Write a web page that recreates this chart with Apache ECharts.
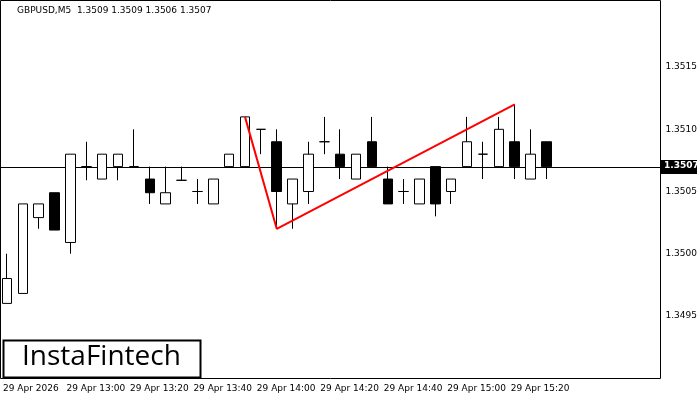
<!DOCTYPE html>
<html><head><meta charset="utf-8">
<script src="https://cdn.jsdelivr.net/npm/echarts@6/dist/echarts.min.js"></script>
<style>html,body{margin:0;padding:0;background:#fff}#c{width:700px;height:400px}</style>
</head><body><div id="c"></div>
<script>
// [open, close, low, high]
const opens  = [1.3496,1.34968,1.35029,1.35049,1.35009,1.3507,1.3506,1.3507,1.3507,1.3506,1.3504,1.35059,1.3505,1.3504,1.3507,1.3507,1.3510,1.3509,1.3504,1.3505,1.3509,1.3508,1.3506,1.3509,1.3506,1.3505,1.3504,1.3507,1.3505,1.3507,1.3508,1.3507,1.3509,1.3506,1.3509];
const closes = [1.3498,1.3504,1.3504,1.35019,1.3508,1.3507,1.3508,1.3508,1.3507,1.35049,1.35049,1.35059,1.3505,1.3506,1.3508,1.3511,1.3510,1.3505,1.3506,1.3508,1.3509,1.3507,1.3508,1.3507,1.3504,1.3505,1.3506,1.3504,1.3506,1.3509,1.3508,1.3510,1.3507,1.3508,1.3507];
const lows   = [1.3496,1.34968,1.3502,1.35019,1.3500,1.35059,1.3506,1.35059,1.3507,1.3504,1.3504,1.35059,1.3504,1.3504,1.3507,1.3507,1.3508,1.3502,1.3502,1.3504,1.3508,1.3506,1.3506,1.3507,1.3504,1.3504,1.3504,1.3503,1.3504,1.3507,1.3506,1.3507,1.3506,1.3506,1.3506];
const highs  = [1.3500,1.3504,1.3504,1.35049,1.3508,1.3509,1.3508,1.3508,1.3510,1.3507,1.3507,1.3507,1.3506,1.3506,1.3508,1.3511,1.3510,1.3510,1.3506,1.3509,1.3511,1.3510,1.3508,1.3511,1.3507,1.3506,1.3506,1.3507,1.3506,1.3511,1.3509,1.3511,1.3512,1.3510,1.3509];
const patternPts = [[15,1.3511],[17,1.3502],[32,1.3512]];
const yTicks = [1.3495,1.3500,1.3505,1.3510,1.3515];
const currentPrice = 1.3507;
const nSlots = 42;
const lastLabelIdx = 32;
const cats = [];
for (let i = 0; i < nSlots; i++) {
  const m = 12*60+40+5*i; const h = Math.floor(m/60), mm = m%60;
  cats.push((i===0)?'29 Apr 2026':'29 Apr '+String(h).padStart(2,'0')+':'+String(mm).padStart(2,'0'));
}
const ohlc = opens.map((o,i)=>[o,closes[i],lows[i],highs[i]]);
const chart = echarts.init(document.getElementById('c'));
chart.setOption({
  animation:false,
  grid:{left:4,top:0,width:656,height:378,show:false},
  xAxis:{type:'category',data:cats,boundaryGap:false,
    axisLine:{show:false},axisTick:{show:false},splitLine:{show:false},
    axisLabel:{interval:3,align:'left',margin:6,fontSize:9,color:'#000',fontFamily:'DejaVu Sans, sans-serif',
      padding:[0,0,0,-4],
      formatter:(v,i)=>i<=lastLabelIdx?v:''}},
  yAxis:{type:'value',position:'right',min:1.3490,max:1.35204,interval:0.0005,
    axisLine:{show:false},axisTick:{show:false},splitLine:{show:false},
    axisLabel:{showMinLabel:false,showMaxLabel:false,margin:8,fontSize:9,color:'#000',fontFamily:'DejaVu Sans, sans-serif',
      formatter:(v)=>yTicks.some(t=>Math.abs(t-v)<1e-7)?v.toFixed(4):''}},
  series:[
    {type:'candlestick',data:ohlc,barWidth:10,clip:true,
      itemStyle:{color:'#fff',color0:'#000',borderColor:'#000',borderColor0:'#000',borderWidth:1}},
    {type:'line',data:patternPts,symbol:'none',lineStyle:{color:'#ff0000',width:2},z:5}
  ]
});
const py = Math.round(chart.convertToPixel({yAxisIndex:0},currentPrice))+0.5;
chart.setOption({
  graphic:[
    {type:'line',shape:{x1:0,y1:py,x2:660,y2:py},style:{stroke:'#000',lineWidth:1},z:1},
    {type:'rect',shape:{x:0.5,y:0.5,width:660,height:378},style:{fill:'none',stroke:'#000',lineWidth:1}},
    {type:'rect',shape:{x:661,y:py-7.5,width:36,height:14},style:{fill:'#000'},z:10},
    {type:'text',x:664,y:py-6,style:{text:currentPrice.toFixed(4),fontSize:9,fontWeight:'bold',fill:'#fff',fontFamily:'DejaVu Sans, sans-serif'},z:11},
    {type:'text',left:17,top:6,style:{text:'GBPUSD,M5  1.3509 1.3509 1.3506 1.3507',fontSize:9,fill:'#000',fontFamily:'DejaVu Sans, sans-serif'}},
    {type:'rect',shape:{x:3.5,y:340.5,width:197,height:37},style:{fill:'#fff',stroke:'#000',lineWidth:2},z:10},
    {type:'text',left:22,top:343,style:{text:'InstaFintech',fontSize:28,fill:'#000',fontFamily:'Open Sans, sans-serif'},z:11}
  ]
});
</script></body></html>
